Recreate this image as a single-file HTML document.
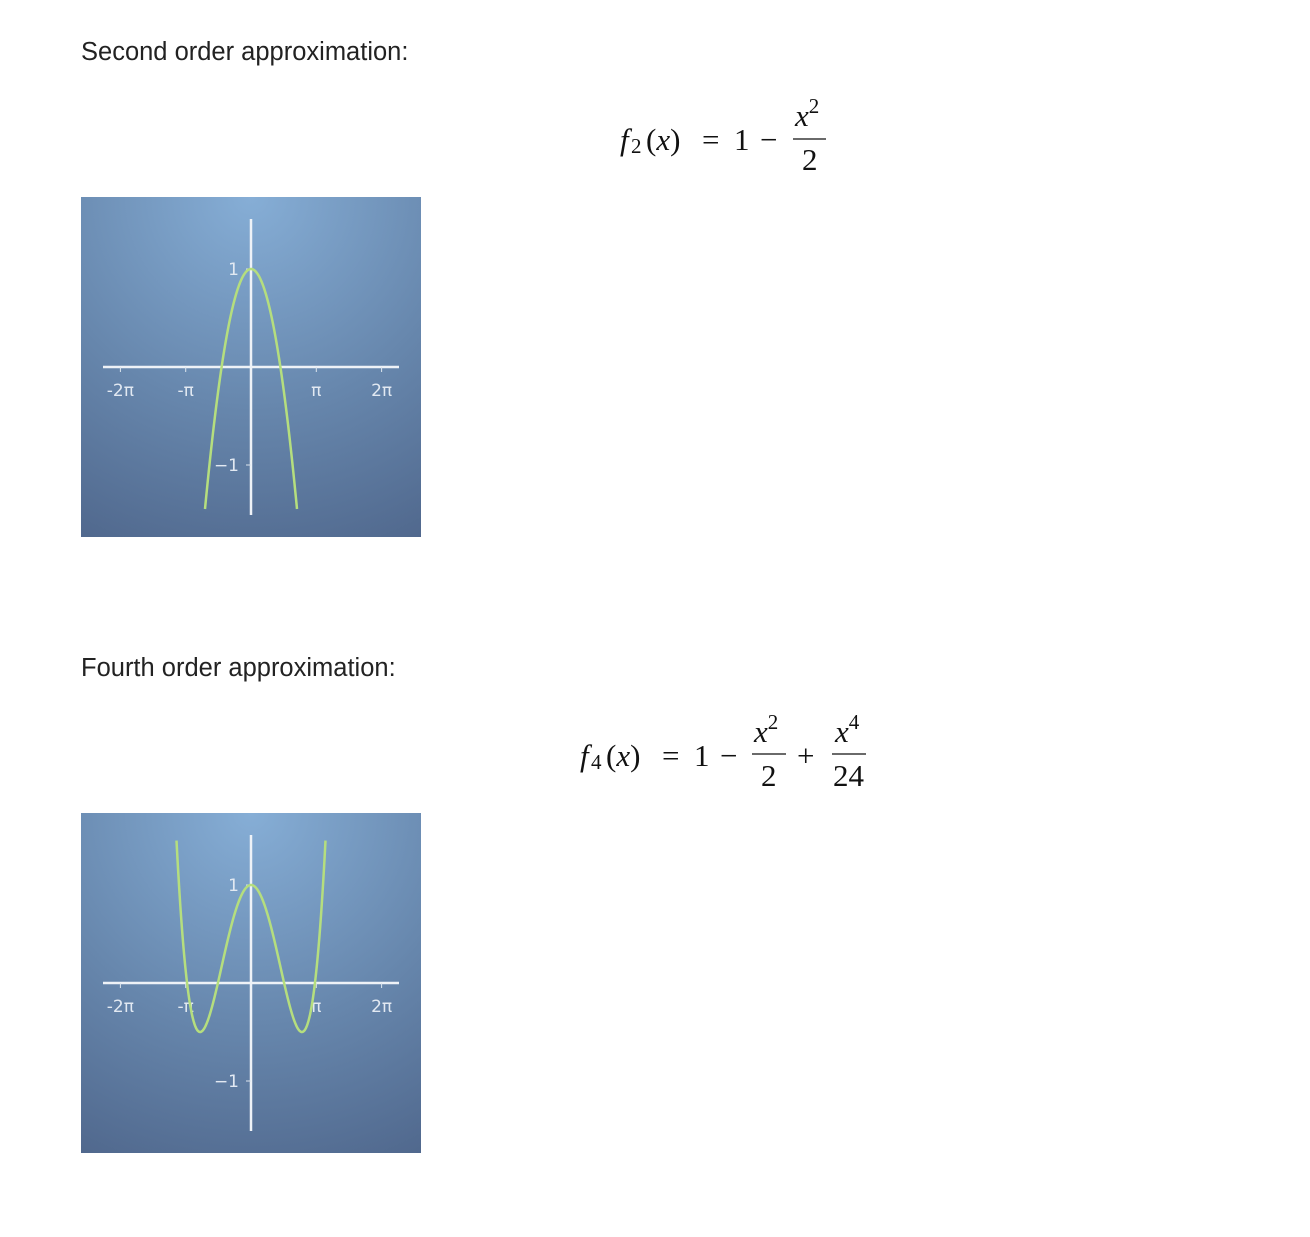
<!DOCTYPE html>
<html><head><meta charset="utf-8"><style>
body{margin:0;background:#fff;width:1310px;height:1232px;overflow:hidden}
.t{font-family:"Liberation Sans",sans-serif;font-size:25.5px;fill:#222}
.m{font-family:"Liberation Serif",serif;font-size:31px;fill:#111}
.s{font-size:21px}
.i{font-style:italic}
.tk{font-family:"DejaVu Sans",sans-serif;font-size:17px;fill:#e2e9f2}
</style></head><body>
<svg id="pg" width="1310" height="1232" xmlns="http://www.w3.org/2000/svg">
<defs>
<radialGradient id="bg" cx="170" cy="0" r="420" gradientUnits="userSpaceOnUse">
<stop offset="0" stop-color="#86aed6"/><stop offset="0.5" stop-color="#6787ad"/><stop offset="1" stop-color="#4b6186"/>
</radialGradient>
</defs>
<text class="t" x="81" y="60">Second order approximation:</text>
<g>
<text class="m i" x="620" y="150">f</text><text class="m s" x="631" y="153">2</text>
<text class="m" x="646" y="150">(<tspan class="i">x</tspan>)</text>
<text class="m" x="702" y="150">=</text>
<text class="m" x="734" y="150">1</text>
<text class="m" x="760" y="150">−</text>
<text class="m i" x="795" y="126">x<tspan class="s" dy="-13" font-style="normal">2</tspan></text>
<line x1="793" y1="139" x2="826" y2="139" stroke="#111" stroke-width="1.3"/>
<text class="m" x="802" y="170">2</text>
</g>
<text class="t" x="81" y="676">Fourth order approximation:</text>
<g>
<text class="m i" x="580" y="766">f</text><text class="m s" x="591" y="769">4</text>
<text class="m" x="606" y="766">(<tspan class="i">x</tspan>)</text>
<text class="m" x="662" y="766">=</text>
<text class="m" x="694" y="766">1</text>
<text class="m" x="720" y="766">−</text>
<text class="m i" x="754" y="742">x<tspan class="s" dy="-13" font-style="normal">2</tspan></text>
<line x1="752" y1="754" x2="786" y2="754" stroke="#111" stroke-width="1.3"/>
<text class="m" x="761" y="786">2</text>
<text class="m" x="797" y="766">+</text>
<text class="m i" x="835" y="742">x<tspan class="s" dy="-13" font-style="normal">4</tspan></text>
<line x1="832" y1="754" x2="866" y2="754" stroke="#111" stroke-width="1.3"/>
<text class="m" x="833" y="786">24</text>
</g>
</svg>
<script>
const xTicks=[-2,-1,1,2];
const xTickLabels=["-2π","-π","π","2π"];
const yTicks=[1,-1];
const yTickLabels=["1","−1"];
const coefs2=[1,0,-0.5];
const coefs4=[1,0,-0.5,0,1/24];
const NS="http://www.w3.org/2000/svg";
const pg=document.getElementById('pg');
function mk(t,a,p){const e=document.createElementNS(NS,t);for(const k in a)e.setAttribute(k,a[k]);p.appendChild(e);return e;}
function chart(ox,oy,coefs,name){
  const g=mk('g',{transform:`translate(${ox},${oy})`},pg);
  
  
  const bg=mk('rect',{x:0,y:0,width:340,height:340,fill:'url(#bg)'},g);
  
  
  const PI=Math.PI,cx=170,cy=170,sx=65.3/PI,sy=98;
  const X=v=>cx+v*sx,Y=v=>cy-v*sy;
  const ax=mk('line',{x1:22,y1:cy,x2:318,y2:cy,stroke:'#eef2f7','stroke-width':2.5},g);
  
  
  const ay=mk('line',{x1:cx,y1:22,x2:cx,y2:318,stroke:'#eef2f7','stroke-width':2.5},g);
  
  
  xTicks.forEach((t,i)=>{const px=X(t*PI);
    mk('line',{x1:px,y1:cy,x2:px,y2:cy+5,stroke:'#dde5ee','stroke-width':1},g);
    const tx=mk('text',{x:px,y:cy+29,'text-anchor':'middle',class:'tk'},g);tx.textContent=xTickLabels[i];
    
    });
  yTicks.forEach((t,i)=>{const py=Y(t);
    mk('line',{x1:cx-5,y1:py,x2:cx,y2:py,stroke:'#dde5ee','stroke-width':1},g);
    const tx=mk('text',{x:cx-12,y:py+6,'text-anchor':'end',class:'tk'},g);tx.textContent=yTickLabels[i];
    
    });
  let d='',started=false;
  for(let px=22;px<=318;px+=0.5){const x=(px-cx)/sx;let y=0;coefs.forEach((c,k)=>y+=c*Math.pow(x,k));
    const py=Y(y);if(py>315||py<22){started=false;continue;}
    d+=(started?'L':'M')+px.toFixed(2)+','+py.toFixed(2);started=true;}
  const p=mk('path',{d:d,fill:'none',stroke:'#b5de7e','stroke-width':2.5},g);
  
  
}
chart(81,197,coefs2,'second-order-chart');
chart(81,813,coefs4,'fourth-order-chart');
</script>
</body></html>
